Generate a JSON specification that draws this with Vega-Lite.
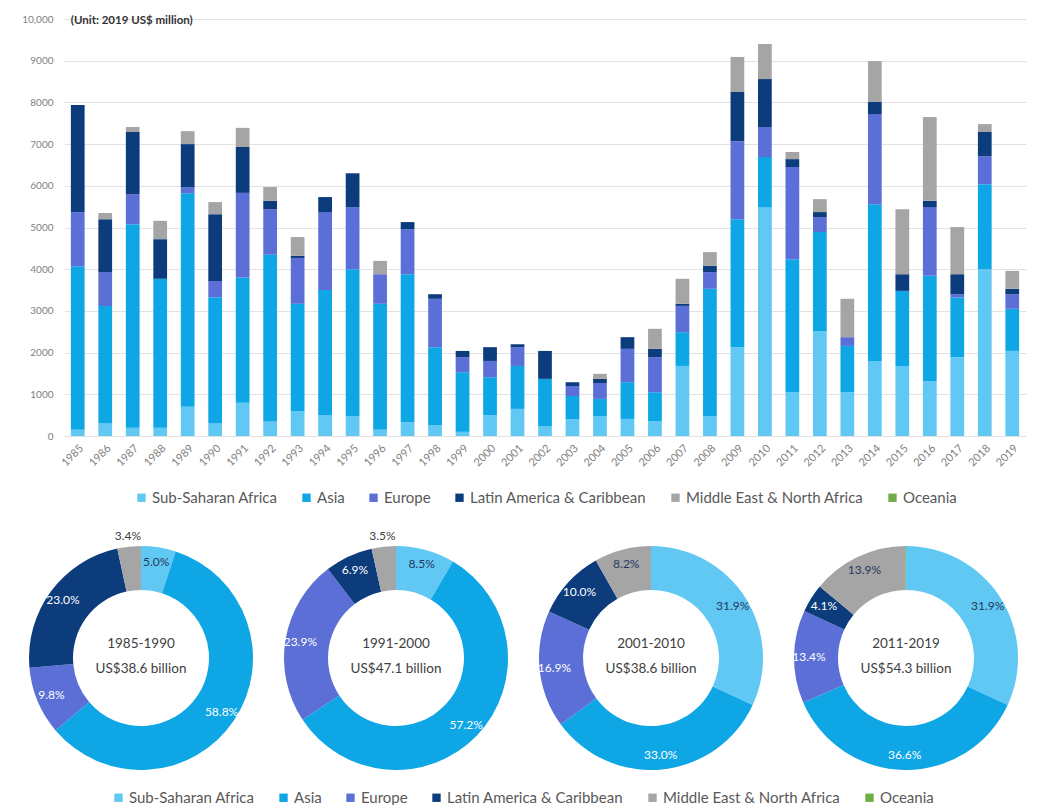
{
  "$schema": "https://vega.github.io/schema/vega-lite/v6.json",
  "background": "white",
  "padding": {"left": 21, "top": 14, "right": 5, "bottom": 0},
  "spacing": 23,
  "config": {
    "font": "Lato",
    "view": {"stroke": null},
    "legend": {
      "orient": "bottom",
      "direction": "horizontal",
      "title": null,
      "symbolType": "square",
      "symbolSize": 70,
      "symbolStrokeWidth": 0,
      "labelFontSize": 15,
      "labelColor": "#595959",
      "labelLimit": 400,
      "columnPadding": 21,
      "labelOffset": 3,
      "layout": {"bottom": {"anchor": "middle"}}
    }
  },
  "datasets": {
    "bars": [
      {"year": "1985", "Sub-Saharan Africa": 150, "Asia": 3920, "Europe": 1300, "Latin America & Caribbean": 2570, "Middle East & North Africa": 0},
      {"year": "1986", "Sub-Saharan Africa": 300, "Asia": 2820, "Europe": 810, "Latin America & Caribbean": 1270, "Middle East & North Africa": 150},
      {"year": "1987", "Sub-Saharan Africa": 200, "Asia": 4880, "Europe": 720, "Latin America & Caribbean": 1490, "Middle East & North Africa": 120},
      {"year": "1988", "Sub-Saharan Africa": 200, "Asia": 3570, "Europe": 0, "Latin America & Caribbean": 950, "Middle East & North Africa": 440},
      {"year": "1989", "Sub-Saharan Africa": 700, "Asia": 5120, "Europe": 150, "Latin America & Caribbean": 1030, "Middle East & North Africa": 310},
      {"year": "1990", "Sub-Saharan Africa": 300, "Asia": 3030, "Europe": 390, "Latin America & Caribbean": 1600, "Middle East & North Africa": 290},
      {"year": "1991", "Sub-Saharan Africa": 800, "Asia": 3000, "Europe": 2030, "Latin America & Caribbean": 1100, "Middle East & North Africa": 460},
      {"year": "1992", "Sub-Saharan Africa": 350, "Asia": 4000, "Europe": 1090, "Latin America & Caribbean": 200, "Middle East & North Africa": 330},
      {"year": "1993", "Sub-Saharan Africa": 600, "Asia": 2570, "Europe": 1100, "Latin America & Caribbean": 50, "Middle East & North Africa": 450},
      {"year": "1994", "Sub-Saharan Africa": 500, "Asia": 3000, "Europe": 1870, "Latin America & Caribbean": 360, "Middle East & North Africa": 0},
      {"year": "1995", "Sub-Saharan Africa": 480, "Asia": 3520, "Europe": 1490, "Latin America & Caribbean": 810, "Middle East & North Africa": 0},
      {"year": "1996", "Sub-Saharan Africa": 150, "Asia": 3020, "Europe": 710, "Latin America & Caribbean": 0, "Middle East & North Africa": 320},
      {"year": "1997", "Sub-Saharan Africa": 330, "Asia": 3550, "Europe": 1080, "Latin America & Caribbean": 170, "Middle East & North Africa": 0},
      {"year": "1998", "Sub-Saharan Africa": 250, "Asia": 1880, "Europe": 1160, "Latin America & Caribbean": 110, "Middle East & North Africa": 0},
      {"year": "1999", "Sub-Saharan Africa": 100, "Asia": 1430, "Europe": 360, "Latin America & Caribbean": 150, "Middle East & North Africa": 0},
      {"year": "2000", "Sub-Saharan Africa": 500, "Asia": 910, "Europe": 390, "Latin America & Caribbean": 330, "Middle East & North Africa": 0},
      {"year": "2001", "Sub-Saharan Africa": 650, "Asia": 1030, "Europe": 450, "Latin America & Caribbean": 70, "Middle East & North Africa": 0},
      {"year": "2002", "Sub-Saharan Africa": 240, "Asia": 1130, "Europe": 0, "Latin America & Caribbean": 670, "Middle East & North Africa": 0},
      {"year": "2003", "Sub-Saharan Africa": 410, "Asia": 550, "Europe": 240, "Latin America & Caribbean": 90, "Middle East & North Africa": 0},
      {"year": "2004", "Sub-Saharan Africa": 480, "Asia": 410, "Europe": 380, "Latin America & Caribbean": 100, "Middle East & North Africa": 120},
      {"year": "2005", "Sub-Saharan Africa": 410, "Asia": 880, "Europe": 800, "Latin America & Caribbean": 280, "Middle East & North Africa": 0},
      {"year": "2006", "Sub-Saharan Africa": 360, "Asia": 690, "Europe": 840, "Latin America & Caribbean": 200, "Middle East & North Africa": 480},
      {"year": "2007", "Sub-Saharan Africa": 1680, "Asia": 810, "Europe": 630, "Latin America & Caribbean": 50, "Middle East & North Africa": 600},
      {"year": "2008", "Sub-Saharan Africa": 480, "Asia": 3050, "Europe": 400, "Latin America & Caribbean": 150, "Middle East & North Africa": 330},
      {"year": "2009", "Sub-Saharan Africa": 2130, "Asia": 3070, "Europe": 1870, "Latin America & Caribbean": 1180, "Middle East & North Africa": 840},
      {"year": "2010", "Sub-Saharan Africa": 5490, "Asia": 1200, "Europe": 720, "Latin America & Caribbean": 1150, "Middle East & North Africa": 840},
      {"year": "2011", "Sub-Saharan Africa": 1050, "Asia": 3190, "Europe": 2210, "Latin America & Caribbean": 190, "Middle East & North Africa": 170},
      {"year": "2012", "Sub-Saharan Africa": 2520, "Asia": 2370, "Europe": 360, "Latin America & Caribbean": 120, "Middle East & North Africa": 310},
      {"year": "2013", "Sub-Saharan Africa": 1050, "Asia": 1110, "Europe": 210, "Latin America & Caribbean": 0, "Middle East & North Africa": 920},
      {"year": "2014", "Sub-Saharan Africa": 1800, "Asia": 3760, "Europe": 2160, "Latin America & Caribbean": 290, "Middle East & North Africa": 980},
      {"year": "2015", "Sub-Saharan Africa": 1680, "Asia": 1800, "Europe": 0, "Latin America & Caribbean": 400, "Middle East & North Africa": 1560},
      {"year": "2016", "Sub-Saharan Africa": 1320, "Asia": 2520, "Europe": 1650, "Latin America & Caribbean": 150, "Middle East & North Africa": 2010},
      {"year": "2017", "Sub-Saharan Africa": 1890, "Asia": 1430, "Europe": 80, "Latin America & Caribbean": 480, "Middle East & North Africa": 1130},
      {"year": "2018", "Sub-Saharan Africa": 4000, "Asia": 2040, "Europe": 670, "Latin America & Caribbean": 580, "Middle East & North Africa": 190},
      {"year": "2019", "Sub-Saharan Africa": 2040, "Asia": 1010, "Europe": 350, "Latin America & Caribbean": 130, "Middle East & North Africa": 430}
    ],
    "shares": [
      {"period": "1985-1990", "region": "Sub-Saharan Africa", "share": 0.050},
      {"period": "1985-1990", "region": "Asia", "share": 0.588},
      {"period": "1985-1990", "region": "Europe", "share": 0.098},
      {"period": "1985-1990", "region": "Latin America & Caribbean", "share": 0.230},
      {"period": "1985-1990", "region": "Middle East & North Africa", "share": 0.034},
      {"period": "1991-2000", "region": "Sub-Saharan Africa", "share": 0.085},
      {"period": "1991-2000", "region": "Asia", "share": 0.572},
      {"period": "1991-2000", "region": "Europe", "share": 0.239},
      {"period": "1991-2000", "region": "Latin America & Caribbean", "share": 0.069},
      {"period": "1991-2000", "region": "Middle East & North Africa", "share": 0.035},
      {"period": "2001-2010", "region": "Sub-Saharan Africa", "share": 0.319},
      {"period": "2001-2010", "region": "Asia", "share": 0.330},
      {"period": "2001-2010", "region": "Europe", "share": 0.169},
      {"period": "2001-2010", "region": "Latin America & Caribbean", "share": 0.100},
      {"period": "2001-2010", "region": "Middle East & North Africa", "share": 0.082},
      {"period": "2011-2019", "region": "Sub-Saharan Africa", "share": 0.319},
      {"period": "2011-2019", "region": "Asia", "share": 0.366},
      {"period": "2011-2019", "region": "Europe", "share": 0.134},
      {"period": "2011-2019", "region": "Latin America & Caribbean", "share": 0.041},
      {"period": "2011-2019", "region": "Middle East & North Africa", "share": 0.139},
      {"period": "2011-2019", "region": "Oceania", "share": 0.001}
    ],
    "periods": [
      {"period": "1985-1990", "caption": "US$38.6 billion"},
      {"period": "1991-2000", "caption": "US$47.1 billion"},
      {"period": "2001-2010", "caption": "US$38.6 billion"},
      {"period": "2011-2019", "caption": "US$54.3 billion"}
    ]
  },
  "resolve": {"legend": {"color": "independent"}},
  "vconcat": [
    {
      "width": 962,
      "height": 417,
      "data": {"name": "bars"},
      "layer": [
        {
          "transform": [
            {"fold": ["Sub-Saharan Africa", "Asia", "Europe", "Latin America & Caribbean", "Middle East & North Africa"], "as": ["region", "value"]},
            {"window": [{"op": "row_number", "as": "seq"}]}
          ],
          "mark": {"type": "bar"},
          "encoding": {
            "x": {
              "field": "year",
              "type": "ordinal",
              "scale": {"paddingInner": 0.5, "paddingOuter": 0.25},
              "axis": {"title": null, "labelAngle": -45, "labelFontSize": 11, "labelColor": "#7f7f7f", "domain": false, "ticks": false, "labelPadding": 6}
            },
            "y": {
              "field": "value",
              "type": "quantitative",
              "stack": "zero",
              "scale": {"domain": [0, 10000]},
              "axis": {
                "title": null,
                "values": [0, 1000, 2000, 3000, 4000, 5000, 6000, 7000, 8000, 9000, 10000],
                "labelExpr": "datum.value >= 10000 ? format(datum.value, ',') : format(datum.value, 'd')",
                "labelFontSize": 10,
                "labelColor": "#808080",
                "labelPadding": 11,
                "domain": false,
                "ticks": false,
                "grid": true,
                "gridColor": "#e2e2e2"
              }
            },
            "color": {
              "field": "region",
              "type": "nominal",
              "scale": {
                "domain": ["Sub-Saharan Africa", "Asia", "Europe", "Latin America & Caribbean", "Middle East & North Africa", "Oceania"],
                "range": ["#60c8f2", "#0ea6e5", "#5c6fd6", "#0c3c7c", "#a5a5a5", "#70ad47"]
              },
              "legend": {"offset": 22}
            },
            "order": {"field": "seq", "type": "quantitative"}
          }
        },
        {
          "data": {"values": [{"note": "(Unit: 2019 US$ million)"}]},
          "mark": {"type": "text", "align": "left", "baseline": "middle", "dx": -7, "dy": 2, "fontSize": 11.5, "fontWeight": "bold", "color": "#333333"},
          "encoding": {
            "x": {"datum": "1985"},
            "y": {"datum": 10000},
            "text": {"field": "note"}
          }
        }
      ]
    },
    {
      "data": {"name": "shares"},
      "transform": [
        {"window": [{"op": "row_number", "as": "seq"}]},
        {"lookup": "period", "from": {"data": {"name": "periods"}, "key": "period", "fields": ["caption"]}}
      ],
      "facet": {"column": {"field": "period", "type": "nominal", "title": null, "header": {"labels": false, "title": null}}},
      "bounds": "flush",
      "spacing": 101,
      "spec": {
        "width": 154,
        "height": 250,
        "layer": [
          {
            "mark": {"type": "arc", "innerRadius": 68, "outerRadius": 112},
            "encoding": {
              "theta": {"field": "share", "type": "quantitative", "stack": true, "scale": {"domain": [0, 1]}},
              "color": {
                "field": "region",
                "type": "nominal",
                "scale": {
                  "domain": ["Sub-Saharan Africa", "Asia", "Europe", "Latin America & Caribbean", "Middle East & North Africa", "Oceania"],
                  "range": ["#60c8f2", "#0ea6e5", "#5c6fd6", "#0c3c7c", "#a5a5a5", "#70ad47"]
                },
                "legend": {"offset": 3}
              },
              "order": {"field": "seq", "type": "quantitative"}
            }
          },
          {
            "mark": {"type": "text", "radius": 97, "fontSize": 12},
            "encoding": {
              "theta": {"field": "share", "type": "quantitative", "stack": true, "scale": {"domain": [0, 1]}},
              "order": {"field": "seq", "type": "quantitative"},
              "text": {
                "condition": {"test": "datum.region == 'Oceania' || (datum.region == 'Middle East & North Africa' && datum.share < 0.05)", "value": ""},
                "field": "share",
                "type": "quantitative",
                "format": ".1%"
              },
              "color": {
                "condition": {"test": "datum.region == 'Sub-Saharan Africa' || datum.region == 'Middle East & North Africa'", "value": "#26385e"},
                "value": "#ffffff"
              }
            }
          },
          {
            "mark": {"type": "text", "radius": 123, "fontSize": 12, "color": "#404040"},
            "encoding": {
              "theta": {"field": "share", "type": "quantitative", "stack": true, "scale": {"domain": [0, 1]}},
              "order": {"field": "seq", "type": "quantitative"},
              "text": {
                "condition": {"test": "datum.region == 'Middle East & North Africa' && datum.share < 0.05", "field": "share", "type": "quantitative", "format": ".1%"},
                "value": ""
              }
            }
          },
          {
            "transform": [{"filter": "datum.region == 'Sub-Saharan Africa'"}],
            "mark": {"type": "text", "fontSize": 13.5, "color": "#404040", "dy": -14},
            "encoding": {"text": {"field": "period"}}
          },
          {
            "transform": [{"filter": "datum.region == 'Sub-Saharan Africa'"}],
            "mark": {"type": "text", "fontSize": 13.5, "color": "#404040", "dy": 11},
            "encoding": {"text": {"field": "caption"}}
          }
        ]
      }
    }
  ]
}
